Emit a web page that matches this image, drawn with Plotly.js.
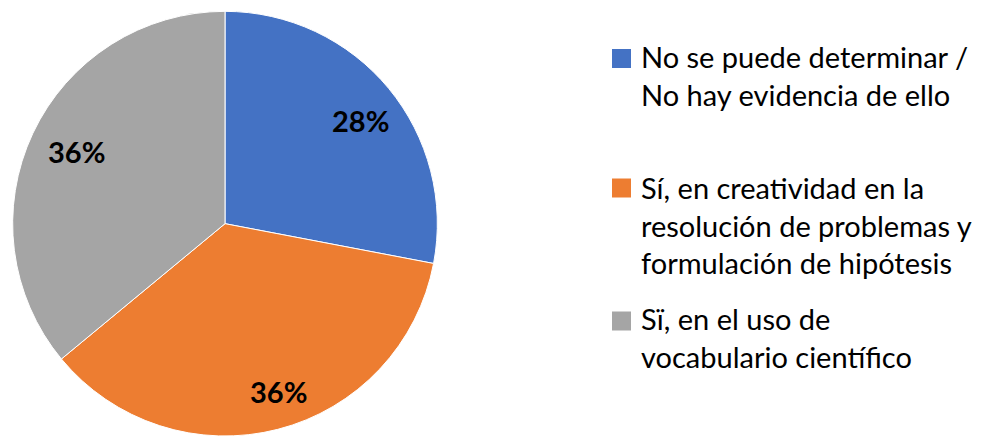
<!DOCTYPE html>
<html>
<head>
<meta charset="utf-8">
<script src="https://cdn.plot.ly/plotly-3.0.1.min.js"></script>
<style>html,body{margin:0;padding:0;background:#fff;}#chart{width:989px;height:436px;}</style>
</head>
<body>
<div id="chart"></div>
<script>
const categories = [
  "No se puede determinar /<br>No hay evidencia de ello",
  "Sí, en creatividad en la<br>resolución de problemas y<br>formulación de hipótesis",
  "Sï, en el uso de<br>vocabulario científico"
];
const values = [28, 36, 36];
const colors = ["#4472C4", "#ED7D31", "#A5A5A5"];

const W = 989, H = 436;
const domX = [12 / W, 438 / W];
const domY = [0, 0.974];

// percent labels computed from the data
const total = values.reduce((a, b) => a + b, 0);
const cx = (domX[0] + domX[1]) / 2, cy = (domY[0] + domY[1]) / 2;
const R = Math.min((domX[1] - domX[0]) * W, (domY[1] - domY[0]) * H) / 2;
const labelRadius = [0.80, 0.83, 0.78];
const labelAngleShift = [2.4, -3.4, 0.7];
let cum = 0;
const annotations = values.map((v, i) => {
  const mid = ((cum + v / 2) / total * 360 + labelAngleShift[i]) * Math.PI / 180;
  cum += v;
  const r = labelRadius[i] * R;
  return {
    xref: "paper", yref: "paper",
    x: cx + r * Math.sin(mid) / W,
    y: cy + r * Math.cos(mid) / H,
    xanchor: "center", yanchor: "middle",
    text: "<b>" + Math.round(v / total * 100) + "%</b>",
    showarrow: false,
    font: {family: "Lato, sans-serif", size: 29, color: "#000"}
  };
});

// legend drawn as squares + text (item positions in pixels from top)
const legendSquareX = [612, 631];
const legendSquareCY = [58.5, 188, 321];
const legendTextCY = [75, 225, 337];
const shapes = [];
categories.forEach((c, i) => {
  shapes.push({
    type: "rect", xref: "paper", yref: "paper",
    x0: legendSquareX[0] / W, x1: legendSquareX[1] / W,
    y0: 1 - (legendSquareCY[i] + 9.5) / H, y1: 1 - (legendSquareCY[i] - 9.5) / H,
    fillcolor: colors[i], line: {width: 0}
  });
  annotations.push({
    xref: "paper", yref: "paper",
    x: 639 / W, y: 1 - legendTextCY[i] / H,
    xanchor: "left", yanchor: "middle", align: "left",
    text: c, showarrow: false,
    font: {family: "Lato, sans-serif", size: 29, color: "#000"}
  });
});

const data = [{
  type: "pie",
  labels: categories,
  values: values,
  sort: false,
  direction: "clockwise",
  rotation: 0,
  textinfo: "none",
  hoverinfo: "label+percent",
  marker: {colors: colors, line: {color: "#ffffff", width: 1}},
  domain: {x: domX, y: domY}
}];

const layout = {
  width: W, height: H,
  margin: {l: 0, r: 0, t: 0, b: 0},
  paper_bgcolor: "#fff",
  showlegend: false,
  annotations: annotations,
  shapes: shapes
};

Plotly.newPlot("chart", data, layout, {staticPlot: true});
</script>
</body>
</html>
